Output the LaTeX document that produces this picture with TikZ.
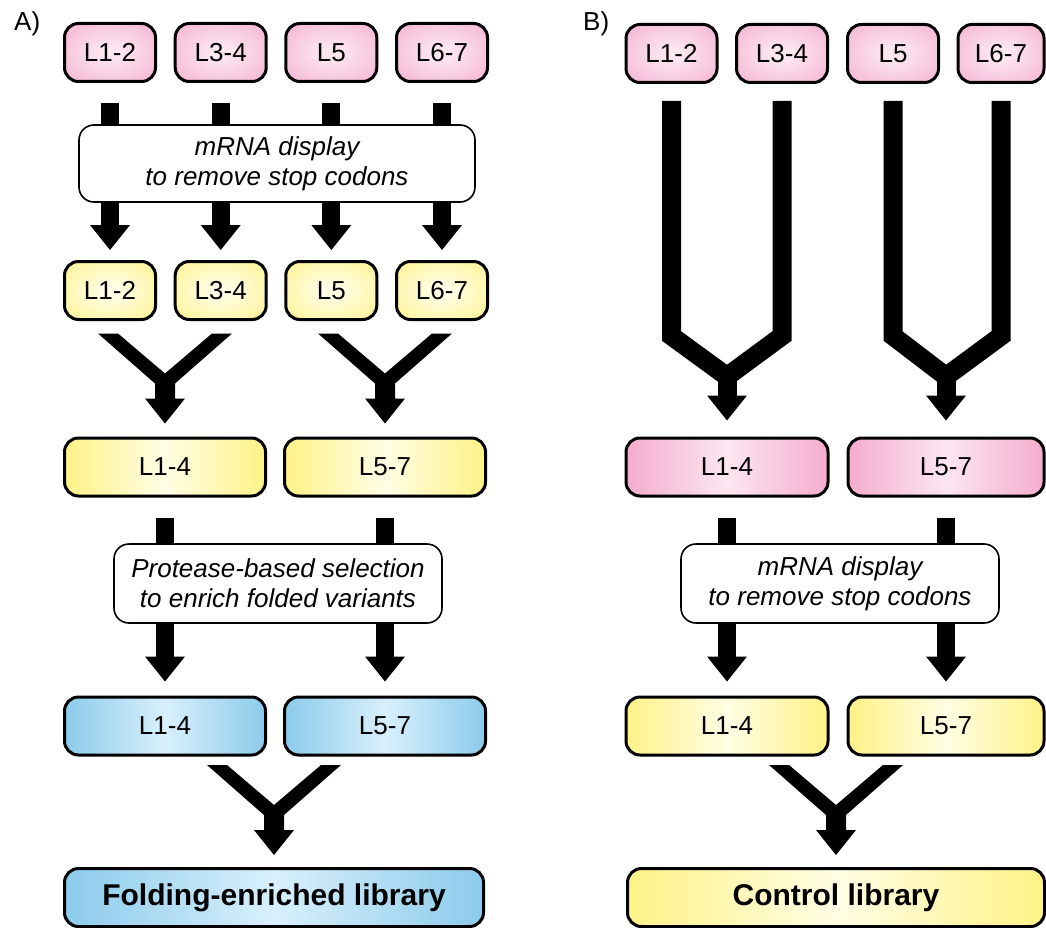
\documentclass[tikz,border=0pt]{standalone}
\usepackage{fontspec}
\setmainfont{Liberation Sans}
\usetikzlibrary{arrows.meta,calc}
\definecolor{pinkE}{RGB}{244,172,206}
\definecolor{pinkC}{RGB}{252,230,240}
\definecolor{yelE}{RGB}{255,242,135}
\definecolor{yelC}{RGB}{255,253,228}
\definecolor{bluE}{RGB}{140,203,235}
\definecolor{bluC}{RGB}{216,240,252}
\pgfdeclareradialshading{pinkrad}{\pgfpoint{0bp}{0bp}}{color(0bp)=(pinkC); color(5bp)=(pinkC); color(40bp)=(pinkE); color(50bp)=(pinkE)}
\pgfdeclareradialshading{yelrad}{\pgfpoint{0bp}{0bp}}{color(0bp)=(yelC); color(5bp)=(yelC); color(40bp)=(yelE); color(50bp)=(yelE)}
\begin{document}
\begin{tikzpicture}[x=1pt,y=-1pt,
  box/.style={draw=black, line width=3pt, rounded corners=14pt, minimum height=58pt, inner sep=0pt, text=black, font=\fontsize{26}{30}\selectfont},
  pinkS/.style={box, minimum width=91pt, shade, shading=pinkrad},
  yelS/.style={box, minimum width=91pt, shade, shading=yelrad},
  pinkW/.style={box, left color=pinkE, right color=pinkE, middle color=pinkC},
  yelW/.style={box, left color=yelE, right color=yelE, middle color=yelC},
  bluW/.style={box, left color=bluE, right color=bluE, middle color=bluC},
  boldtxt/.style={font=\fontsize{30}{34}\selectfont\bfseries},
  note/.style={draw=black, line width=1.6pt, rounded corners=15pt, fill=white, align=center, inner sep=0pt, text=black, font=\fontsize{26}{30}\selectfont\itshape},
  arr/.style={line width=18pt, -{Triangle[width=40pt,length=25pt,line width=0pt]}},
  arrU/.style={line width=19pt, -{Triangle[width=40pt,length=25pt,line width=0pt]}},
  uline/.style={line width=19pt, line join=miter},
  lab/.style={anchor=base west, inner sep=0pt, font=\fontsize{26}{30}\selectfont},
  ymerge/.pic={\fill[black] (-67,-90) -- (-47,-90) -- (0,-50) -- (47,-90) -- (67,-90) -- (10,-40) -- (10,-25) -- (20,-25) -- (0,0) -- (-20,-25) -- (-10,-25) -- (-10,-40) -- cycle;}
]
\useasboundingbox (0,0) rectangle (1046,928);

% ---------- Panel A ----------
\node[lab] (labA) at (14,31) {A)};
\node[pinkS] (a11) at (110,52.5) {L1-2};
\node[pinkS] (a12) at (220.7,52.5) {L3-4};
\node[pinkS] (a13) at (331.3,52.5) {L5};
\node[pinkS] (a14) at (442,52.5) {L6-7};
\node[yelS] (a21) at (110,290.5) {L1-2};
\node[yelS] (a22) at (220.7,290.5) {L3-4};
\node[yelS] (a23) at (331.3,290.5) {L5};
\node[yelS] (a24) at (442,290.5) {L6-7};
\foreach \i in {1,...,4} \draw[arr] ([yshift=-20pt]a1\i.south) -- ([yshift=10pt]a2\i.north);
\node[note, minimum width=396pt, minimum height=77pt] (na) at (277,163.5) {mRNA display\\to remove stop codons};

\node[yelW, minimum width=201pt] (a31) at (165,467) {L1-4};
\node[yelW, minimum width=201pt] (a32) at (385,467) {L5-7};
\pic at ([yshift=13pt]a31.north) {ymerge};
\pic at ([yshift=13pt]a32.north) {ymerge};

\node[bluW, minimum width=201pt] (a41) at (165,726) {L1-4};
\node[bluW, minimum width=201pt] (a42) at (385,726) {L5-7};
\draw[arr] ([yshift=-20pt]a31.south) -- ([yshift=14pt]a41.north);
\draw[arr] ([yshift=-20pt]a32.south) -- ([yshift=14pt]a42.north);
\node[note, minimum width=328pt, minimum height=79pt] (nb) at (278,583.5) {Protease-based selection\\to enrich folded variants};

\node[bluW, boldtxt, minimum width=419pt] (a5) at (274,897.5) {Folding-enriched library};
\pic at ([yshift=12pt]a5.north) {ymerge};

% ---------- Panel B ----------
\node[lab] (labB) at (583,31) {B)};
\node[pinkS] (b11) at (671.5,53.5) {L1-2};
\node[pinkS] (b12) at (782,53.5) {L3-4};
\node[pinkS] (b13) at (893,53.5) {L5};
\node[pinkS, minimum width=86pt] (b14) at (1001,53.5) {L6-7};

\node[pinkW, minimum width=202pt] (b31) at (727,467) {L1-4};
\node[pinkW, minimum width=196pt] (b32) at (946,467) {L5-7};

\coordinate (ujL) at ($(b31.north)+(0,-60)$);
\coordinate (ujR) at ($(b32.north)+(0,-60)$);
\draw[uline] ([yshift=-17pt]b11.south) -- ($(b11.south)+(0,252)$) -- (ujL) -- ($(b12.south)+(0,252)$) -- ([yshift=-17pt]b12.south);
\draw[uline] ([yshift=-17pt]b13.south) -- ($(b13.south)+(0,252)$) -- (ujR) -- ($(b14.south)+(0,252)$) -- ([yshift=-17pt]b14.south);
\draw[arrU] (ujL) -- ([yshift=16pt]b31.north);
\draw[arrU] (ujR) -- ([yshift=16pt]b32.north);

\node[yelW, minimum width=202pt] (b41) at (727,726) {L1-4};
\node[yelW, minimum width=196pt] (b42) at (946,726) {L5-7};
\draw[arr] ([yshift=-20pt]b31.south) -- ([yshift=14pt]b41.north);
\draw[arr] ([yshift=-20pt]b32.south) -- ([yshift=14pt]b42.north);
\node[note, minimum width=318pt, minimum height=79pt] (nc) at (840,583.5) {mRNA display\\to remove stop codons};

\node[yelW, boldtxt, minimum width=417pt] (b5) at (836,897.5) {Control library};
\pic at ([yshift=12pt]b5.north) {ymerge};
\end{tikzpicture}
\end{document}
